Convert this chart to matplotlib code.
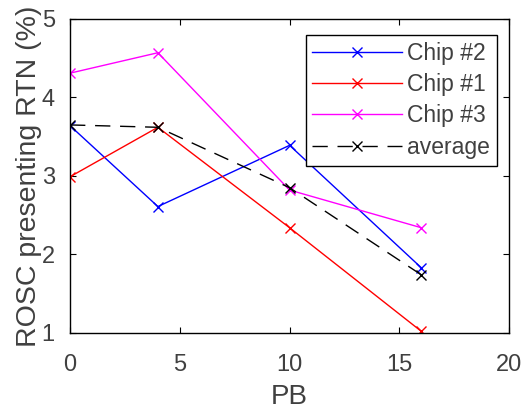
import matplotlib
matplotlib.use('Agg')
import matplotlib.pyplot as plt

# data
pb = [0, 4, 10, 16]
chip2 = [3.64, 2.61, 3.39, 1.83]
chip1 = [2.99, 3.62, 2.34, 1.02]
chip3 = [4.31, 4.57, 2.82, 2.34]
average = [3.65, 3.62, 2.85, 1.74]

plt.rcParams['font.family'] = ['Liberation Sans', 'DejaVu Sans']
txt = '#404040'

fig = plt.figure(figsize=(5.27, 4.13), dpi=100, facecolor='white')
ax = fig.add_axes([0.133, 0.194, 0.833, 0.760])

ax.plot(pb, chip2, color='#0000ff', marker='x', markersize=7, lw=1, label='Chip #2')
ax.plot(pb, chip1, color='#ff0000', marker='x', markersize=7, lw=1, label='Chip #1')
ax.plot(pb, chip3, color='#ff00ff', marker='x', markersize=7, lw=1, label='Chip #3')
ax.plot(pb, average, color='black', marker='x', markersize=7, lw=1,
        dashes=(11, 7), label='average')

ax.set_xlim(0, 20)
ax.set_ylim(1, 5)
ax.set_xticks([0, 5, 10, 15, 20])
ax.set_yticks([1, 2, 3, 4, 5])
ax.tick_params(direction='in', top=True, right=True, labelsize=17,
               colors='black', labelcolor=txt, length=4)
ax.tick_params(axis='x', pad=15)
ax.tick_params(axis='y', pad=11)
for s in ax.spines.values():
    s.set_linewidth(1)

ax.set_xlabel('PB', fontsize=20, color=txt, labelpad=6)
ax.set_ylabel('ROSC presenting RTN (%)', fontsize=20.5, color=txt, labelpad=0)

leg = ax.legend(loc='upper right', bbox_to_anchor=(0.973, 0.949), borderaxespad=0,
                fontsize=16.5, fancybox=False, framealpha=1,
                edgecolor='black', handlelength=3.9, handletextpad=0.25,
                borderpad=0.3, labelspacing=0.36)
leg.get_frame().set_linewidth(1)
for t in leg.get_texts():
    t.set_color(txt)

plt.savefig('out.png', dpi=100, facecolor='white')
